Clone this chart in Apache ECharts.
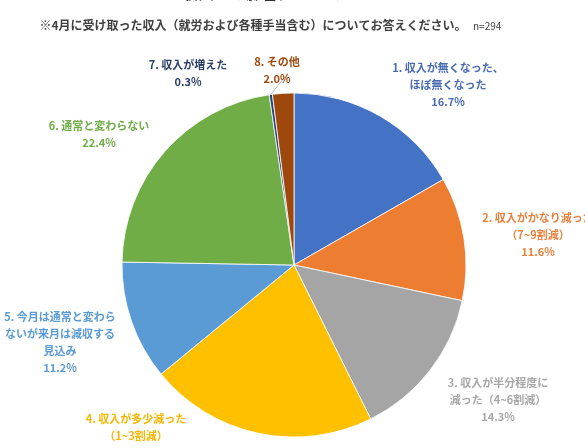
<!DOCTYPE html>
<html>
<head>
<meta charset="utf-8">
<script src="https://cdn.jsdelivr.net/npm/echarts@6/dist/echarts.min.js"></script>
<style>
  html, body { margin: 0; padding: 0; background: #fff; }
  #main { width: 585px; height: 448px; }
</style>
</head>
<body>
<div id="main"></div>
<script>
// 回答カテゴリ
var categories = [
  '1. 収入が無くなった、\nほぼ無くなった',
  '2. 収入がかなり減った\n（7~9割減）',
  '3. 収入が半分程度に\n減った（4~6割減）',
  '4. 収入が多少減った\n（1~3割減）',
  '5. 今月は通常と変わら\nないが来月は減収する\n見込み',
  '6. 通常と変わらない',
  '7. 収入が増えた',
  '8. その他'
];
// 割合(%)
var percents = [16.7, 11.6, 14.3, 21.4, 11.2, 22.4, 0.3, 2.0];

var colors = ['#4472C4', '#ED7D31', '#A5A5A5', '#FFC000', '#5B9BD5', '#70AD47', '#264478', '#9E480E'];
var labelColors = ['#4a6cb3', '#E8823F', '#A8A8A8', '#F5B800', '#5B9BD5', '#70AD47', '#2c3f66', '#9E480E'];
// ラベル位置（中心）
var labelPos = [[448, 85], [538, 235], [498, 400], [136, 436], [60, 342], [99, 134], [188, 73], [277, 70]];

var chart = echarts.init(document.getElementById('main'));

var seriesData = [];
for (var i = 0; i < categories.length; i++) {
  seriesData.push({
    name: categories[i],
    value: percents[i],
    itemStyle: { color: colors[i] },
    label: { color: labelColors[i] },
    labelLine: { show: i === 6 }
  });
}

var option = {
  backgroundColor: '#fff',
  animation: false,
  graphic: [
    {
      type: 'text', x: 262, y: -7,
      style: {
        text: '収入への影響について', fill: '#333',
        font: 'bold 16px "Noto Sans CJK JP"',
        textAlign: 'center', textVerticalAlign: 'middle'
      }
    },
    {
      type: 'text', x: 253, y: 25,
      style: {
        text: '※4月に受け取った収入（就労および各種手当含む）についてお答えください。', fill: '#404040',
        font: 'bold 12px "Noto Sans CJK JP"',
        textAlign: 'center', textVerticalAlign: 'middle'
      }
    },
    {
      type: 'text', x: 473, y: 26,
      style: {
        text: 'n=294', fill: '#404040',
        font: '10px "Noto Sans CJK JP"',
        textAlign: 'left', textVerticalAlign: 'middle'
      }
    }
  ],
  series: [{
    type: 'pie',
    center: [294, 265],
    radius: 172,
    startAngle: 90,
    clockwise: true,
    itemStyle: { borderColor: '#fff', borderWidth: 0.8 },
    label: {
      show: true,
      position: 'outside',
      formatter: function (p) { return p.name + '\n' + p.value.toFixed(1) + '%'; },
      fontFamily: 'Noto Sans CJK JP',
      fontSize: 11,
      fontWeight: 'bold',
      lineHeight: 17,
      align: 'center',
      overflow: 'none',
      width: 200
    },
    labelLine: {
      length: 8,
      length2: 10,
      lineStyle: { color: '#a6a6a6', width: 0.8 }
    },
    labelLayout: function (params) {
      var p = labelPos[params.dataIndex];
      return { x: p[0], y: p[1], align: 'center', verticalAlign: 'middle' };
    },
    data: seriesData
  }]
};

chart.setOption(option);
</script>
</body>
</html>
